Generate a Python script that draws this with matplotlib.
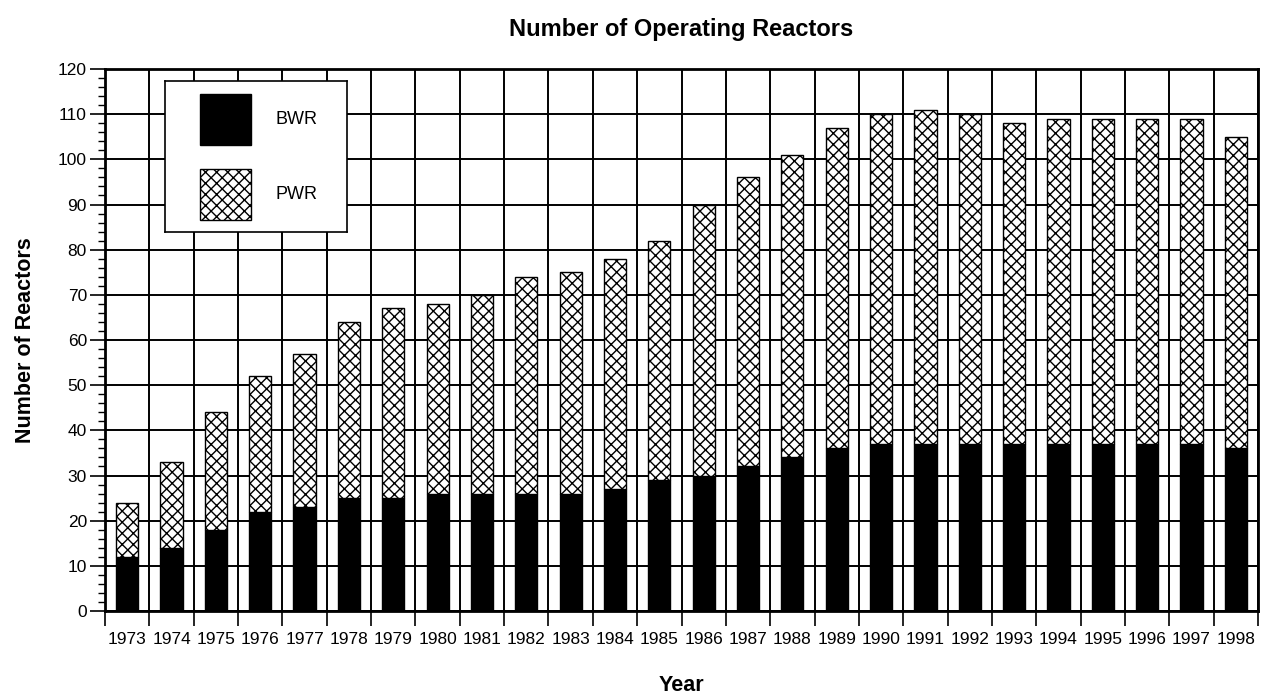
import matplotlib
matplotlib.use("Agg")
import matplotlib.pyplot as plt
from matplotlib.patches import Rectangle
import numpy as np

years = [str(y) for y in range(1973, 1999)]
bwr = [12, 14, 18, 22, 23, 25, 25, 26, 26, 26, 26, 27, 29,
       30, 32, 34, 36, 37, 37, 37, 37, 37, 37, 37, 37, 36]
pwr = [12, 19, 26, 30, 34, 39, 42, 42, 44, 48, 49, 51, 53,
       60, 64, 67, 71, 73, 74, 73, 71, 72, 72, 72, 72, 69]

plt.rcParams['hatch.linewidth'] = 1.0
plt.rcParams['font.family'] = ['Liberation Sans', 'DejaVu Sans']
narrow = ['Liberation Sans Narrow', 'Liberation Sans', 'DejaVu Sans']

fig = plt.figure(figsize=(12.65, 6.98), dpi=100)
ax = fig.add_axes([0.083, 0.1246, 0.9115, 0.7765])

x = np.arange(len(years))
width = 0.5
ax.bar(x, bwr, width, color='black', edgecolor='black', linewidth=1)
ax.bar(x, pwr, width, bottom=bwr, color='white', edgecolor='black',
       hatch='xxx', linewidth=1)

ax.set_xlim(-0.5, len(years) - 0.5)
ax.set_ylim(0, 120)

# labels under the bars, tick marks and vertical grid at the boundaries
ax.set_xticks(x)
ax.set_xticklabels(years, family=narrow, fontsize=12.5)
ax.set_xticks(np.arange(len(years) + 1) - 0.5, minor=True)
ax.tick_params(axis='x', which='major', length=0, pad=15)
ax.tick_params(axis='x', which='minor', length=11, width=1.2, direction='out')

ax.set_yticks(np.arange(0, 121, 10))
ax.set_yticks(np.arange(0, 121, 2), minor=True)
ax.tick_params(axis='y', which='major', length=11, width=1.2, pad=2)
ax.tick_params(axis='y', which='minor', length=5, width=1.0)
plt.setp(ax.get_yticklabels(), family=narrow, fontsize=12.5)

ax.set_axisbelow(True)
ax.grid(True, axis='y', which='major', color='black', linewidth=1.4)
ax.grid(True, axis='x', which='minor', color='black', linewidth=1.4)
for s in ax.spines.values():
    s.set_linewidth(2)

ax.set_title('Number of Operating Reactors', fontsize=17, fontweight='bold', pad=24)
ax.set_xlabel('Year', fontsize=15.5, fontweight='bold', labelpad=20)
ax.set_ylabel('Number of Reactors', fontsize=15.5, fontweight='bold', labelpad=16)

# legend box
lax = ax.inset_axes([0.052, 0.70, 0.158, 0.277])
lax.set_xlim(0, 1)
lax.set_ylim(0, 1)
lax.set_xticks([])
lax.set_yticks([])
lax.set_facecolor('white')
for s in lax.spines.values():
    s.set_linewidth(1.2)
lax.add_patch(Rectangle((0.19, 0.58), 0.28, 0.34, facecolor='black', edgecolor='black'))
lax.add_patch(Rectangle((0.19, 0.08), 0.28, 0.34, facecolor='white', edgecolor='black',
                        hatch='xxx'))
lax.text(0.605, 0.75, 'BWR', family=narrow, fontsize=13, va='center')
lax.text(0.605, 0.25, 'PWR', family=narrow, fontsize=13, va='center')

fig.savefig('out.png', dpi=100)
